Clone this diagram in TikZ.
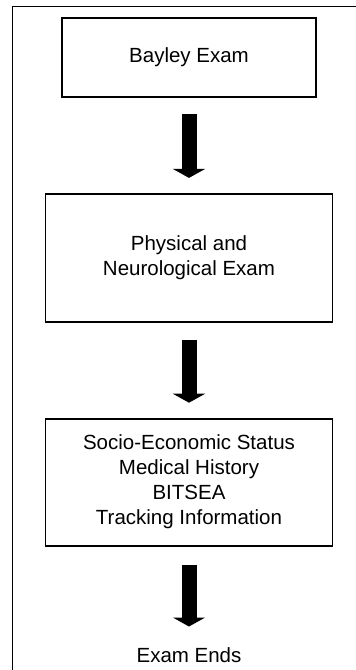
\documentclass[tikz,border=0pt]{standalone}
\usepackage{fontspec}
\setmainfont{Liberation Sans}
\usetikzlibrary{arrows.meta,positioning}

\begin{document}
\begin{tikzpicture}[x=1pt, y=-1pt, line join=miter]
    \tikzstyle{stage}=[rectangle, draw=black, line width=1.8pt, inner sep=0pt, align=center, font=\fontsize{20.5}{25}\selectfont]
    \tikzstyle{flow}=[line width=15pt, -{Triangle[width=32pt,length=9pt]}]
    \useasboundingbox (0,0) rectangle (356,670);
    % frame, only its left and top sides are on the page
    \draw[line width=0.8pt] (12,670) -- (12,6) -- (356,6);
    \node[stage, minimum width=254pt, minimum height=79pt] (bayley) at (189,57.5) {Bayley Exam};
    \node[stage, minimum width=287pt, minimum height=128pt, below=95pt of bayley] (physical) {Physical and\\Neurological Exam};
    \node[stage, minimum width=287pt, minimum height=127pt, below=95pt of physical] (survey) {Socio-Economic Status\\Medical History\\BITSEA\\Tracking Information};
    \node[font=\fontsize{20.5}{25}\selectfont, inner sep=0pt, below=101pt of survey] (ends) {Exam Ends};
    \draw[flow, shorten <=16pt, shorten >=15pt] (bayley.south) -- (physical.north);
    \draw[flow, shorten <=17pt, shorten >=15pt] (physical.south) -- (survey.north);
    \draw[flow, shorten <=18pt, shorten >=21pt] (survey.south) -- (ends.north);
\end{tikzpicture}
\end{document}
